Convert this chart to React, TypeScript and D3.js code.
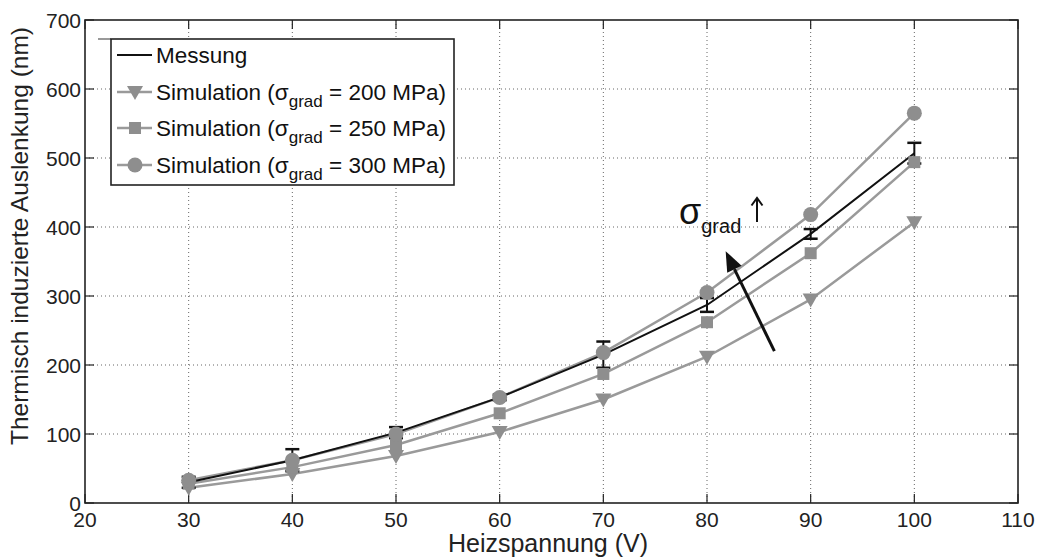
import React from "react";
import * as d3 from "d3";

const voltages = [30, 40, 50, 60, 70, 80, 90, 100];
const messung = [30, 62, 102, 153, 215, 287, 390, 507];
const messungErr = [8, 16, 8, 4, 19, 10, 7, 15];
const sim200 = [22, 42, 68, 103, 150, 212, 295, 407];
const sim250 = [28, 52, 84, 130, 187, 262, 362, 494];
const sim300 = [33, 62, 100, 153, 218, 305, 418, 565];
const xTicks = [20, 30, 40, 50, 60, 70, 80, 90, 100, 110];
const yTicks = [0, 100, 200, 300, 400, 500, 600, 700];
const legendLabels = ["Messung", "200", "250", "300"];
const arrowFrom = [86.5, 220];
const arrowTo = [81.8, 365];

const W = 1038, H = 559;
const L = 85, R = 1018, T = 20, B = 503;
const FONT = "'Liberation Sans', Arial, Helvetica, sans-serif";
const LINE_GRAY = "#9a9a9a";
const MARK_GRAY = "#8e8e8e";

function Marker({ type, x, y }: { type: string; x: number; y: number }) {
  if (type === "tri") {
    const s = 8;
    return <path d={`M${x - s},${y - s * 0.75}L${x + s},${y - s * 0.75}L${x},${y + s}Z`} fill={MARK_GRAY} />;
  }
  if (type === "sq") {
    return <rect x={x - 6} y={y - 6} width={12} height={12} fill={MARK_GRAY} />;
  }
  return <circle cx={x} cy={y} r={7.5} fill={MARK_GRAY} />;
}

export default function App() {
  const x = d3.scaleLinear().domain([20, 110]).range([L, R]);
  const y = d3.scaleLinear().domain([0, 700]).range([B, T]);
  const line = d3.line<number>().x((_, i) => x(voltages[i])).y((d) => y(d));
  const sims = [
    { data: sim200, type: "tri" },
    { data: sim250, type: "sq" },
    { data: sim300, type: "circ" },
  ];
  const [ax1, ay1] = [x(arrowFrom[0]), y(arrowFrom[1])];
  const [ax2, ay2] = [x(arrowTo[0]), y(arrowTo[1])];
  const ang = Math.atan2(ay2 - ay1, ax2 - ax1);
  const hl = 20, hw = 8;
  const bx = ax2 - hl * Math.cos(ang), by = ay2 - hl * Math.sin(ang);
  const head = `M${ax2},${ay2}L${bx + hw * Math.sin(ang)},${by - hw * Math.cos(ang)}L${bx - hw * Math.sin(ang)},${by + hw * Math.cos(ang)}Z`;

  const legX = 111, legY = 39, legW = 343, legH = 146;
  const rowY = [55, 92, 128, 165];

  return (
    <svg width={W} height={H} style={{ position: "absolute", left: 0, top: 0, background: "#fff" }} fontFamily={FONT}>
      <rect x={0} y={0} width={W} height={H} fill="#fff" />
      {/* grid */}
      {xTicks.slice(1, -1).map((t) => (
        <line key={"gx" + t} x1={x(t)} x2={x(t)} y1={T} y2={B} stroke="#666" strokeWidth={1} strokeDasharray="1,3" />
      ))}
      {yTicks.slice(1, -1).map((t) => (
        <line key={"gy" + t} x1={L} x2={R} y1={y(t)} y2={y(t)} stroke="#666" strokeWidth={1} strokeDasharray="1,3" />
      ))}
      {/* ticks */}
      {xTicks.map((t) => (
        <g key={"tx" + t}>
          <line x1={x(t)} x2={x(t)} y1={B} y2={B - 9} stroke="#222" strokeWidth={1.2} />
          <line x1={x(t)} x2={x(t)} y1={T} y2={T + 9} stroke="#222" strokeWidth={1.2} />
          <text x={x(t)} y={527} textAnchor="middle" fontSize={21} fill="#222">{t}</text>
        </g>
      ))}
      {yTicks.map((t) => (
        <g key={"ty" + t}>
          <line x1={L} x2={L + 9} y1={y(t)} y2={y(t)} stroke="#222" strokeWidth={1.2} />
          <line x1={R} x2={R - 9} y1={y(t)} y2={y(t)} stroke="#222" strokeWidth={1.2} />
          <text x={L - 4} y={y(t) + 8} textAnchor="end" fontSize={21} fill="#222">{t}</text>
        </g>
      ))}
      <rect x={L} y={T} width={R - L} height={B - T} fill="none" stroke="#222" strokeWidth={1.6} />
      {/* sim lines */}
      {sims.map((s, i) => (
        <path key={"sl" + i} d={line(s.data) || ""} fill="none" stroke={LINE_GRAY} strokeWidth={2.5} />
      ))}
      {/* Messung */}
      <path d={line(messung) || ""} fill="none" stroke="#111" strokeWidth={2} />
      {messung.map((m, i) => {
        const cx = x(voltages[i]);
        const y1 = y(m - messungErr[i]), y2 = y(m + messungErr[i]);
        return (
          <g key={"eb" + i} stroke="#111" strokeWidth={2}>
            <line x1={cx} x2={cx} y1={y1} y2={y2} />
            <line x1={cx - 7} x2={cx + 7} y1={y1} y2={y1} strokeWidth={2.5} />
            <line x1={cx - 7} x2={cx + 7} y1={y2} y2={y2} strokeWidth={2.5} />
          </g>
        );
      })}
      {/* markers */}
      {sims.map((s, i) =>
        s.data.map((d, j) => <Marker key={"m" + i + "-" + j} type={s.type} x={x(voltages[j])} y={y(d)} />)
      )}
      {/* annotation arrow */}
      <line x1={ax1} y1={ay1} x2={bx} y2={by} stroke="#111" strokeWidth={3} />
      <path d={head} fill="#111" />
      <text x={679} y={224} fontSize={36} fill="#111">
        σ<tspan fontSize={20} dy={9}>grad</tspan>
      </text>
      <g stroke="#111" strokeWidth={2} fill="none">
        <line x1={757} x2={757} y1={198} y2={222} />
        <path d="M751.5,205.5L757,198L762.5,205.5" />
      </g>
      {/* legend */}
      <line x1={98} x2={legX} y1={legY} y2={legY} stroke="#999" strokeWidth={2} />
      <rect x={legX} y={legY} width={legW} height={legH} fill="#fff" stroke="#222" strokeWidth={1.6} />
      {rowY.map((ry, i) => (
        <g key={"lg" + i}>
          <line x1={117} x2={152} y1={ry} y2={ry} stroke={i === 0 ? "#111" : LINE_GRAY} strokeWidth={i === 0 ? 2 : 2.5} />
          {i > 0 && <Marker type={sims[i - 1].type} x={135} y={ry} />}
          {i === 0 ? (
            <text x={156} y={ry + 8} fontSize={22.5} fill="#111">{legendLabels[0]}</text>
          ) : (
            <text x={156} y={ry + 8} fontSize={22.5} fill="#111">
              Simulation (σ<tspan fontSize={17} dy={7}>grad</tspan>
              <tspan dy={-7}> = {legendLabels[i]} MPa)</tspan>
            </text>
          )}
        </g>
      ))}
      {/* axis labels */}
      <text x={548} y={552} textAnchor="middle" fontSize={25} fill="#222">Heizspannung (V)</text>
      <text transform={`translate(28, 236) rotate(-90)`} textAnchor="middle" fontSize={24.5} fill="#222">
        Thermisch induzierte Auslenkung (nm)
      </text>
    </svg>
  );
}
